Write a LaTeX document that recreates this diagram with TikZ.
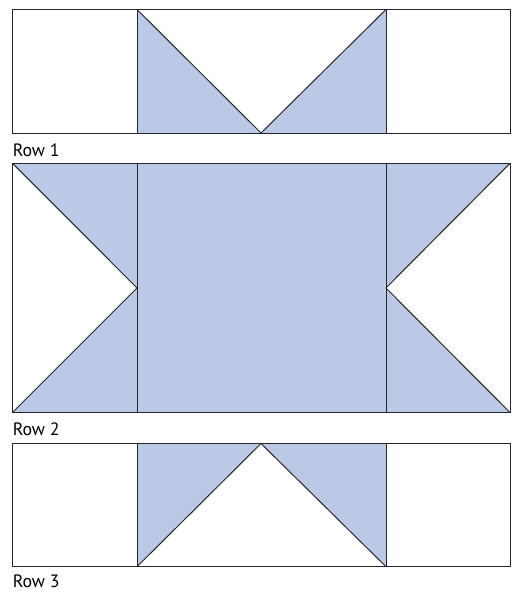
\documentclass[tikz,border=0pt]{standalone}
\usepackage{fontspec}
\setmainfont{PT Sans}
\definecolor{quiltblue}{HTML}{BCC9E6}
\tikzset{
  outline/.style={draw=black!85,line width=0.75pt},
  rowlabel/.style={anchor=base west,inner sep=0pt,font=\fontsize{13.4pt}{15pt}\selectfont}
}
\begin{document}
\begin{tikzpicture}[x=0.75pt,y=-0.75pt]
\useasboundingbox (0,0) rectangle (513,592);
% Row 1
\fill[quiltblue] (137,9.5) -- (261,133) -- (137,133) -- cycle;
\fill[quiltblue] (386,9.5) -- (386,133) -- (261,133) -- cycle;
\draw[outline] (137,9.5) -- (261,133) -- (386,9.5);
\draw[outline] (12.5,9.5) rectangle (510,133);
\draw[outline] (137,9.5) -- (137,133);
\draw[outline] (386,9.5) -- (386,133);
\node[rowlabel] (r1) at (12.5,156) {Row 1};
% Row 2
\fill[quiltblue] (12.5,163.3) -- (510,163.3) -- (386,288) -- (510,412.5) -- (12.5,412.5) -- (137,288) -- cycle;
\draw[outline] (12.5,163.3) -- (137,288) -- (12.5,412.5);
\draw[outline] (510,163.3) -- (386,288) -- (510,412.5);
\draw[outline] (12.5,163.3) rectangle (510,412.5);
\draw[outline] (137,163.3) -- (137,412.5);
\draw[outline] (386,163.3) -- (386,412.5);
\node[rowlabel] (r2) at (12.5,435) {Row 2};
% Row 3
\fill[quiltblue] (137,443.5) -- (261,443.5) -- (137,566.7) -- cycle;
\fill[quiltblue] (261,443.5) -- (386,443.5) -- (386,566.7) -- cycle;
\draw[outline] (137,566.7) -- (261,443.5) -- (386,566.7);
\draw[outline] (12.5,443.5) rectangle (510,566.7);
\draw[outline] (137,443.5) -- (137,566.7);
\draw[outline] (386,443.5) -- (386,566.7);
\node[rowlabel] (r3) at (12.5,587) {Row 3};
\end{tikzpicture}
\end{document}
